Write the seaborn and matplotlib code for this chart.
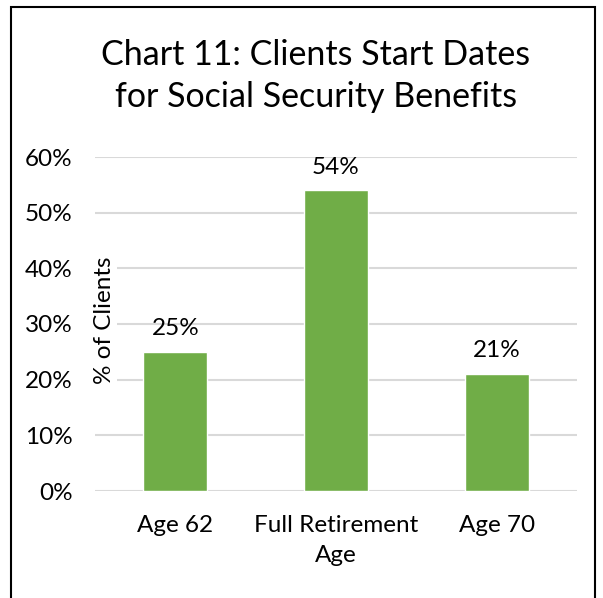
import matplotlib
matplotlib.use("Agg")
import matplotlib.pyplot as plt
from matplotlib.patches import Rectangle
import pandas as pd
import seaborn as sns

# Start-date choices and the share of clients picking each
categories = ["Age 62", "Full Retirement\nAge", "Age 70"]
shares = [25, 54, 21]          # percent of clients
y_ticks = [0, 10, 20, 30, 40, 50, 60]

title = "Chart 11: Clients Start Dates\nfor Social Security Benefits"
y_label = "% of Clients"

sns.set_theme(style="white")
plt.rcParams["font.family"] = ["Lato", "DejaVu Sans"]

BAR = "#70AD47"
GRID = "#D9D9D9"
FS = 17.5

fig = plt.figure(figsize=(6.03, 5.98), dpi=100)
ax = fig.add_axes([95 / 603, 107 / 598, 482 / 603, 334 / 598])

df = pd.DataFrame({"category": categories, "share": shares})
sns.barplot(data=df, x="category", y="share", color=BAR, saturation=1,
            width=0.4, ax=ax, zorder=2)

ax.set_xlim(-0.5, 2.5)
ax.set_ylim(0, 60)
ax.set_yticks(y_ticks)
ax.set_yticklabels([f"{t}%" for t in y_ticks])
ax.set_axisbelow(True)
ax.yaxis.grid(True, color=GRID, linewidth=1.5)
ax.xaxis.grid(False)
for s in ax.spines.values():
    s.set_visible(False)

ax.tick_params(axis="y", length=0, pad=16, labelsize=FS, labelcolor="black")
ax.tick_params(axis="x", length=0, pad=17, labelsize=FS, labelcolor="black")
for lbl in ax.get_xticklabels():
    lbl.set_linespacing(1.55)
ax.set_xlabel("")

ax.set_ylabel(y_label, fontsize=FS, color="black",
              bbox=dict(facecolor="white", edgecolor="none", pad=1))
ax.yaxis.set_label_coords(0.042, 0.512)

# Value labels above each bar
for i, v in enumerate(shares):
    ax.annotate(f"{v}%", xy=(i, v), xytext=(0, 12), textcoords="offset points",
                ha="center", va="baseline", fontsize=FS, color="black")

fig.text(0.524, (598 - 65) / 598, title.split("\n")[0], ha="center",
         va="baseline", fontsize=24.5, color="black")
fig.text(0.524, (598 - 107) / 598, title.split("\n")[1], ha="center",
         va="baseline", fontsize=24.5, color="black")

# Chart frame
fig.patches.append(Rectangle((11 / 603, -0.02), 584 / 603, (598 - 7) / 598 + 0.02,
                             transform=fig.transFigure, fill=False,
                             edgecolor="black", linewidth=1.5, clip_on=False))

fig.savefig("out.png", dpi=100)
